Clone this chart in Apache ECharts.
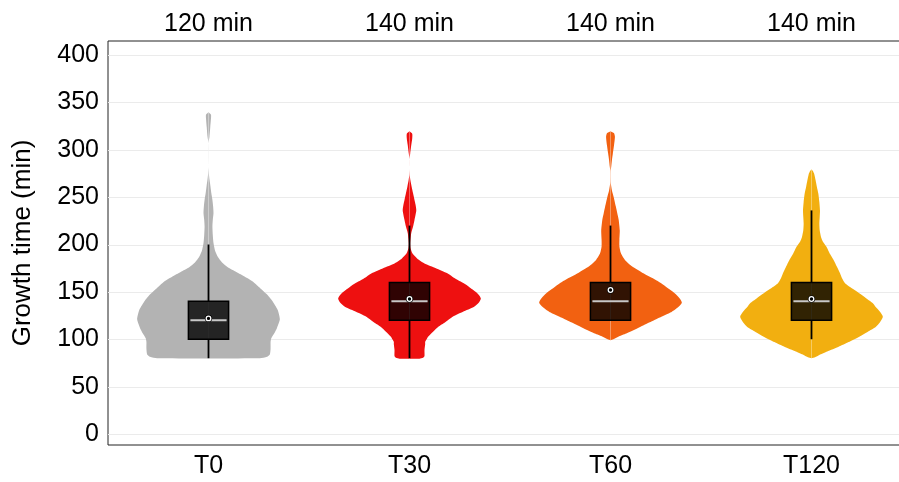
<!DOCTYPE html>
<html><head><meta charset="utf-8">
<script src="https://cdn.jsdelivr.net/npm/echarts@6/dist/echarts.min.js"></script>
<style>html,body{margin:0;padding:0;background:#fff}#c{width:899px;height:482px}</style>
</head><body><div id="c"></div><script>
const categories = ['T0', 'T30', 'T60', 'T120'];
const topLabels = ['120 min', '140 min', '140 min', '140 min'];
const yTicks = [0, 50, 100, 150, 200, 250, 300, 350, 400];
const colors = ['#b3b3b3', '#ee1010', '#f26111', '#f2af10'];
const q1 = [100, 120, 120, 120];
const medians = [120, 140, 140, 140];
const q3 = [140, 160, 160, 160];
const whiskerLow = [80, 80, 120, 100];
const whiskerHigh = [200, 220, 220, 236];
const means = [122, 142.5, 152, 142.5];

// [value, relative half-width]
const densityT0 = [[80,0.72],[81.5,0.82],[84,0.86],[90,0.87],[97,0.87],[101,0.88],[106,0.92],[112,0.96],[121,1.0],[131,0.97],[141,0.89],[148,0.81],[155,0.71],[161,0.62],[166,0.51],[171,0.39],[176,0.27],[181,0.19],[187,0.13],[194,0.09],[201.5,0.07],[210,0.06],[219,0.055],[226,0.06],[233,0.07],[240,0.065],[247,0.055],[254,0.04],[261,0.028],[268,0.015],[275,0.005],[282,0],[307,0],[314,0.014],[324,0.025],[333,0.035],[337,0.035],[339.5,0]];
const densityT30 = [[79.5,0.14],[80.5,0.19],[82,0.21],[88.7,0.21],[95,0.22],[97.4,0.22],[100,0.24],[102.7,0.26],[108,0.33],[113,0.4],[118,0.5],[124,0.61],[129,0.75],[134,0.9],[138.5,0.97],[143,1.0],[147,0.97],[150,0.93],[155,0.84],[159,0.76],[164,0.64],[169.6,0.53],[175,0.37],[180,0.21],[185,0.11],[190.7,0.04],[196,0.015],[201,0.01],[206,0.015],[212,0.024],[219,0.05],[226,0.07],[236,0.095],[242,0.085],[247,0.07],[254,0.05],[261,0.03],[268,0.012],[273,0.003],[280,0],[290,0],[296,0.01],[305,0.025],[312,0.038],[317,0.038],[319.5,0]];
const densityT60 = [[99,0],[100,0.04],[102.7,0.11],[106,0.22],[109.8,0.33],[115,0.47],[120,0.61],[125,0.75],[129,0.86],[134,0.95],[138.6,1.0],[143,0.97],[148.5,0.9],[154,0.8],[159,0.71],[164,0.6],[169.6,0.46],[177,0.3],[184,0.2],[191,0.145],[198,0.125],[205,0.125],[215,0.13],[226,0.115],[233,0.095],[240,0.075],[250,0.045],[257,0.02],[264.6,0.004],[272,0.002],[278,0.003],[282,0.01],[289,0.02],[296,0.033],[305,0.05],[313.8,0.062],[317.5,0.05],[319.5,0]];
const densityT120 = [[80,0],[81,0.05],[83.4,0.11],[87,0.22],[92,0.38],[97,0.52],[102.7,0.67],[108,0.79],[113,0.9],[118,0.96],[123.8,1.0],[129,0.96],[134,0.9],[138,0.86],[143,0.77],[148.5,0.67],[154,0.56],[159,0.47],[164,0.43],[169.6,0.4],[176,0.36],[183.6,0.31],[190,0.26],[197.7,0.21],[203,0.16],[208,0.133],[215,0.115],[222,0.11],[229,0.115],[236,0.119],[245,0.11],[254,0.095],[261,0.075],[268,0.057],[274,0.04],[277.5,0.02],[279.5,0]];
const densities = [densityT0, densityT30, densityT60, densityT120];

const FONT = "'Liberation Sans', Arial, sans-serif";

function violinSeries(i) {
  return {
    type: 'custom',
    z: 3,
    silent: true,
    data: [[i, medians[i]]],
    renderItem: function (params, api) {
      const band = api.size([1, 0])[0];
      const cx = api.coord([i, 0])[0];
      const maxHalf = band * 0.355;
      const Y = v => api.coord([i, v])[1];
      const d = densities[i];
      const pts = [];
      for (let k = 0; k < d.length; k++) pts.push([cx - d[k][1] * maxHalf, Y(d[k][0])]);
      for (let k = d.length - 1; k >= 0; k--) pts.push([cx + d[k][1] * maxHalf, Y(d[k][0])]);
      const bw = band * 0.2;
      const children = [
        { type: 'polygon', shape: { points: pts, smooth: 0.2 }, style: { fill: colors[i], stroke: null } },
        { type: 'line', shape: { x1: cx, y1: Y(d[0][0]), x2: cx, y2: Y(d[d.length - 1][0]) }, style: { stroke: 'rgba(255,255,255,0.35)', lineWidth: 1 } },
        { type: 'line', shape: { x1: cx, y1: Y(q3[i]), x2: cx, y2: Y(whiskerHigh[i]) }, style: { stroke: '#000', lineWidth: 1.8 } }
      ];
      if (whiskerLow[i] < q1[i]) {
        children.push({ type: 'line', shape: { x1: cx, y1: Y(q1[i]), x2: cx, y2: Y(whiskerLow[i]) }, style: { stroke: '#000', lineWidth: 1.8 } });
      }
      children.push(
        { type: 'rect', shape: { x: cx - bw / 2, y: Y(q3[i]), width: bw, height: Y(q1[i]) - Y(q3[i]) }, style: { fill: 'rgba(0,0,0,0.8)', stroke: '#000', lineWidth: 1.5 } },
        { type: 'line', shape: { x1: cx - bw / 2 + 2, y1: Y(medians[i]), x2: cx + bw / 2 - 2, y2: Y(medians[i]) }, style: { stroke: '#c8c8c8', lineWidth: 2 } },
        { type: 'circle', shape: { cx: cx, cy: Y(means[i]), r: 3.6 }, style: { fill: '#000', stroke: null } },
        { type: 'circle', shape: { cx: cx, cy: Y(means[i]), r: 2.3 }, style: { fill: '#000', stroke: '#fff', lineWidth: 1.3 } }
      );
      return { type: 'group', children: children };
    }
  };
}

const gridSeries = {
  type: 'custom',
  z: 1,
  silent: true,
  data: yTicks.map(v => [0, v]),
  renderItem: function (params, api) {
    const y = Math.round(api.coord([0, api.value(1)])[1]) + 0.5;
    const cs = params.coordSys;
    return { type: 'line', shape: { x1: cs.x, y1: y, x2: cs.x + cs.width, y2: y }, style: { stroke: '#ebebeb', lineWidth: 1 } };
  }
};

const chart = echarts.init(document.getElementById('c'), null, { renderer: 'canvas' });
chart.setOption({
  animation: false,
  backgroundColor: '#fff',
  textStyle: { fontFamily: FONT },
  grid: { left: 108, top: 41, width: 804, height: 404, outerBoundsMode: 'none', containLabel: false,
          show: true, borderColor: '#222', borderWidth: 1, backgroundColor: 'transparent' },
  xAxis: [
    { type: 'category', data: categories, position: 'bottom', boundaryGap: true,
      axisLine: { show: false }, axisTick: { show: false }, splitLine: { show: false },
      axisLabel: { fontSize: 25, color: '#000', margin: 9, fontFamily: FONT } },
    { type: 'category', data: topLabels, position: 'top', boundaryGap: true,
      axisLine: { show: false }, axisTick: { show: false }, splitLine: { show: false },
      axisLabel: { fontSize: 25, color: '#000', margin: 4, fontFamily: FONT } }
  ],
  yAxis: {
    type: 'value', min: -11.6, max: 414.8,
    name: 'Growth time (min)', nameLocation: 'middle', nameRotate: 90, nameGap: 72,
    nameTextStyle: { fontSize: 26, color: '#000', fontFamily: FONT },
    axisLine: { show: false }, axisTick: { show: false }, splitLine: { show: false },
    axisLabel: { customValues: yTicks, fontSize: 25, color: '#000', margin: 9, fontFamily: FONT }
  },
  series: [gridSeries].concat(categories.map((c, i) => violinSeries(i)))
});
</script></body></html>
